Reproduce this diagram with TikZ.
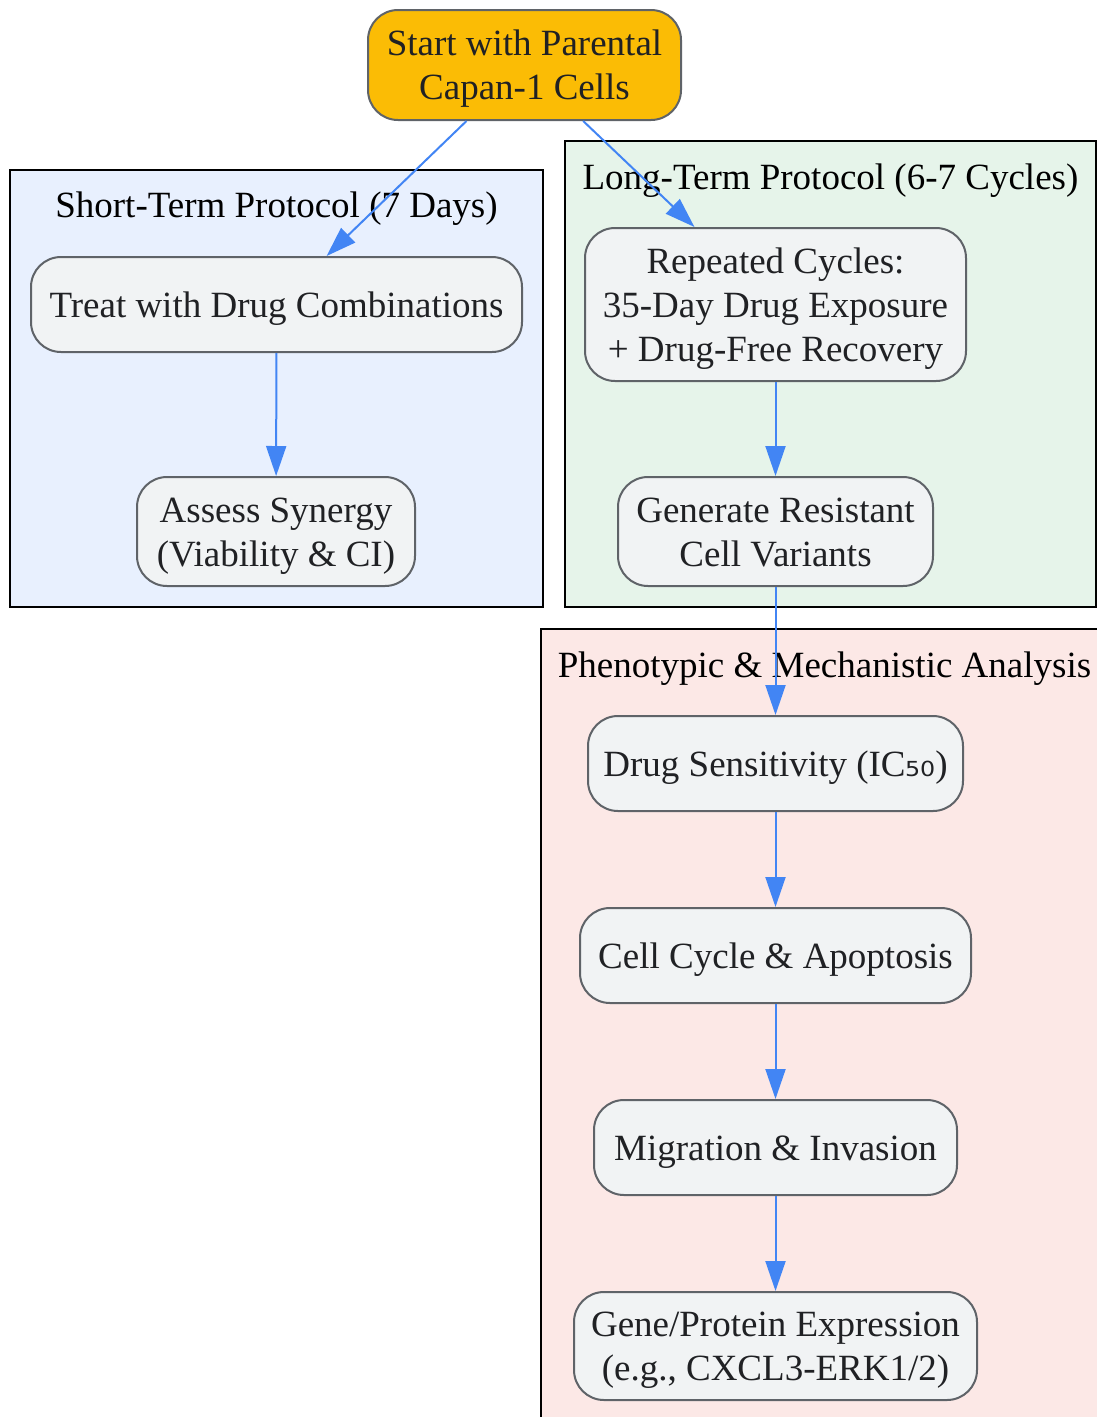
\documentclass[tikz,border=0pt]{standalone}
\usepackage{fontspec}
\setmainfont{Liberation Serif}
\newfontfamily\subfont{DejaVu Sans}
\usetikzlibrary{arrows.meta}
\definecolor{startfill}{HTML}{FBBC05}
\definecolor{stagefill}{HTML}{F1F3F4}
\definecolor{stageline}{HTML}{5F6368}
\definecolor{stagetext}{HTML}{202124}
\definecolor{flowblue}{HTML}{4285F4}
\definecolor{shortfill}{HTML}{E8F0FE}
\definecolor{longfill}{HTML}{E6F4EA}
\definecolor{phenofill}{HTML}{FCE8E6}
\begin{document}
\begin{tikzpicture}%
	[x=1pt, y=-1pt,
	font=\fontsize{37}{44}\selectfont,
	cluster/.style={draw=black, line width=2pt},
	title/.style={anchor=base, text=black, inner sep=0pt},
	stage/.style={draw=stageline, fill=stagefill, text=stagetext, line width=2pt, rounded corners=30pt, align=center, inner sep=0pt,
		text height=34pt, text depth=9pt},
	twoline/.style={text height=78pt},
	threeline/.style={text height=122pt},
	flow/.style={draw=flowblue, line width=2pt, -{Triangle[length=30pt,width=20pt]}}]
%
%
%% Page frame:
%%
\useasboundingbox (0,0) rectangle (1097,1417);
\clip (0,0) rectangle (1097,1417);
%%
%%
%% Drawing the clusters
%%
\filldraw[cluster, fill=shortfill] (10,170) rectangle (543,607);
\filldraw[cluster, fill=longfill] (565,141) rectangle (1096,607);
\filldraw[cluster, fill=phenofill] (541,629) rectangle (1100,1420);
\node[title] (shorttitle) at (276.5,217) {Short-Term Protocol (7 Days)};
\node[title] (longtitle) at (830.5,189) {Long-Term Protocol (6-7 Cycles)};
\node[title] (phenotitle) at (824.5,677) {Phenotypic \& Mechanistic Analysis};
%%
%%
%% Drawing the stages
%%
\node[stage, twoline, fill=startfill, minimum width=313, minimum height=110] (start) at (524.5,65) {Start with Parental\\Capan-1 Cells};
\node[stage, minimum width=491, minimum height=95] (treat) at (276.5,304.5) {Treat with Drug Combinations};
\node[stage, twoline, minimum width=278, minimum height=109] (assess) at (276,531.5) {Assess Synergy\\(Viability \& CI)};
\node[stage, threeline, minimum width=381, minimum height=153] (repeated) at (775.5,304.5) {Repeated Cycles:\\35-Day Drug Exposure\\+ Drug-Free Recovery};
\node[stage, twoline, minimum width=315, minimum height=109] (generate) at (775.5,531.5) {Generate Resistant\\Cell Variants};
\node[stage, minimum width=375, minimum height=95] (sensitivity) at (775.5,763.5) {Drug Sensitivity (IC{\subfont ₅₀})};
\node[stage, minimum width=391, minimum height=95] (cellcycle) at (775.5,955.5) {Cell Cycle \& Apoptosis};
\node[stage, minimum width=363, minimum height=95] (migration) at (775.5,1147.5) {Migration \& Invasion};
\node[stage, twoline, minimum width=403, minimum height=108] (expression) at (775.5,1346) {Gene/Protein Expression\\(e.g., CXCL3-ERK1/2)};
%%
%%
%% Drawing the flow
%%
\draw[flow] (start) -- (treat);
\draw[flow] (start) -- (repeated);
\draw[flow] (treat) -- (assess);
\draw[flow] (repeated) -- (generate);
\draw[flow] (generate) -- (sensitivity);
\draw[flow] (sensitivity) -- (cellcycle);
\draw[flow] (cellcycle) -- (migration);
\draw[flow] (migration) -- (expression);
%%
%%
\end{tikzpicture}
\end{document}
